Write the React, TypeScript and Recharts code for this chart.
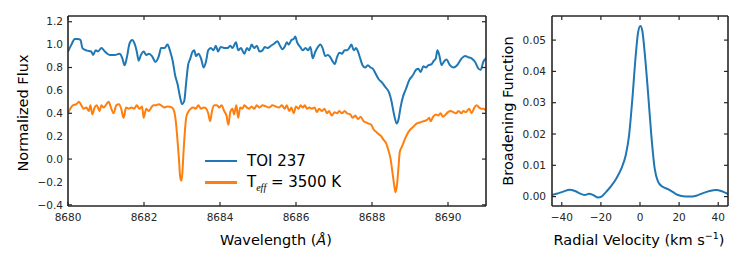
import React from 'react';
import { LineChart, Line, XAxis, YAxis } from 'recharts';

// TOI 237 spectrum (blue) and template Teff = 3500 K (orange)
const BLUE_WL = [
  8680.00, 8680.09, 8680.18, 8680.26, 8680.33, 8680.38, 8680.48, 8680.61, 8680.66, 8680.73,
  8680.79, 8680.88, 8680.97, 8681.10, 8681.23, 8681.36, 8681.43, 8681.49, 8681.55, 8681.62,
  8681.69, 8681.75, 8681.81, 8681.86, 8681.92, 8681.99, 8682.06, 8682.13, 8682.21, 8682.30,
  8682.39, 8682.45, 8682.54, 8682.62, 8682.69, 8682.76, 8682.82, 8682.88, 8682.95, 8683.00,
  8683.06, 8683.11, 8683.16, 8683.22, 8683.28, 8683.32, 8683.37, 8683.43, 8683.50, 8683.57,
  8683.63, 8683.69, 8683.76, 8683.83, 8683.89, 8683.95, 8684.02, 8684.11, 8684.20, 8684.27,
  8684.33, 8684.42, 8684.48, 8684.55, 8684.64, 8684.71, 8684.77, 8684.83, 8684.90, 8684.97,
  8685.04, 8685.12, 8685.18, 8685.25, 8685.34, 8685.43, 8685.51, 8685.58, 8685.64, 8685.70,
  8685.76, 8685.81, 8685.88, 8685.94, 8685.98, 8686.03, 8686.11, 8686.18, 8686.25, 8686.32,
  8686.38, 8686.44, 8686.51, 8686.58, 8686.64, 8686.70, 8686.77, 8686.84, 8686.90, 8686.97,
  8687.02, 8687.08, 8687.14, 8687.21, 8687.28, 8687.34, 8687.40, 8687.46, 8687.52, 8687.58,
  8687.63, 8687.69, 8687.75, 8687.82, 8687.89, 8687.96, 8688.02, 8688.09, 8688.17, 8688.26,
  8688.35, 8688.45, 8688.51, 8688.58, 8688.65, 8688.70, 8688.75, 8688.82, 8688.89, 8688.98,
  8689.07, 8689.16, 8689.22, 8689.28, 8689.35, 8689.42, 8689.48, 8689.57, 8689.63, 8689.68,
  8689.72, 8689.77, 8689.83, 8689.89, 8689.96, 8690.05, 8690.14, 8690.24, 8690.36, 8690.45,
  8690.53, 8690.62, 8690.71, 8690.80, 8690.86, 8690.93, 8691.00,
];
const BLUE_FLUX = [
  0.94, 1.00, 1.05, 1.05, 1.04, 0.97, 0.95, 0.94, 0.91, 0.95,
  0.94, 0.97, 0.94, 0.91, 0.91, 0.92, 0.88, 0.82, 0.89, 1.01,
  1.04, 1.01, 0.94, 0.86, 0.91, 0.94, 0.91, 0.92, 0.90, 0.85,
  0.90, 0.97, 0.97, 1.00, 0.94, 0.85, 0.73, 0.66, 0.54, 0.48,
  0.51, 0.67, 0.82, 0.88, 0.94, 0.95, 0.90, 0.92, 0.88, 0.80,
  0.85, 0.95, 0.97, 0.95, 0.99, 0.94, 0.98, 0.97, 0.97, 0.99,
  0.97, 1.02, 0.95, 0.97, 0.92, 0.97, 0.95, 1.00, 0.97, 0.99,
  0.94, 0.95, 0.98, 0.97, 0.99, 1.01, 1.03, 0.99, 0.96, 0.98,
  1.02, 1.00, 1.04, 1.05, 1.07, 1.02, 0.98, 0.95, 0.97, 0.95,
  0.98, 0.88, 0.94, 0.98, 1.00, 0.97, 0.90, 0.91, 0.89, 0.85,
  0.83, 0.89, 0.93, 0.92, 0.95, 0.95, 0.97, 1.00, 0.95, 0.97,
  0.94, 0.88, 0.82, 0.80, 0.82, 0.80, 0.79, 0.75, 0.70, 0.67,
  0.63, 0.58, 0.51, 0.39, 0.31, 0.35, 0.45, 0.55, 0.61, 0.69,
  0.73, 0.78, 0.79, 0.76, 0.81, 0.80, 0.82, 0.83, 0.86, 0.88,
  0.95, 0.91, 0.82, 0.85, 0.87, 0.82, 0.80, 0.82, 0.88, 0.90,
  0.89, 0.88, 0.85, 0.79, 0.78, 0.85, 0.88,
];

const ORANGE_WL = [
  8680.00, 8680.06, 8680.13, 8680.22, 8680.29, 8680.35, 8680.41, 8680.48, 8680.55, 8680.59,
  8680.64, 8680.70, 8680.76, 8680.83, 8680.88, 8680.94, 8681.01, 8681.07, 8681.13, 8681.20,
  8681.27, 8681.34, 8681.40, 8681.46, 8681.53, 8681.60, 8681.67, 8681.74, 8681.81, 8681.88,
  8681.95, 8681.99, 8682.06, 8682.13, 8682.19, 8682.25, 8682.32, 8682.39, 8682.45, 8682.54,
  8682.62, 8682.74, 8682.80, 8682.84, 8682.88, 8682.92, 8682.95, 8682.98, 8683.01, 8683.04,
  8683.08, 8683.11, 8683.16, 8683.23, 8683.30, 8683.36, 8683.43, 8683.50, 8683.57, 8683.64,
  8683.69, 8683.74, 8683.79, 8683.85, 8683.92, 8683.98, 8684.04, 8684.11, 8684.17, 8684.22,
  8684.27, 8684.33, 8684.37, 8684.43, 8684.48, 8684.53, 8684.59, 8684.64, 8684.71, 8684.77,
  8684.83, 8684.90, 8684.97, 8685.04, 8685.12, 8685.21, 8685.29, 8685.38, 8685.46, 8685.55,
  8685.63, 8685.70, 8685.76, 8685.82, 8685.88, 8685.94, 8686.00, 8686.07, 8686.12, 8686.18,
  8686.23, 8686.29, 8686.35, 8686.42, 8686.49, 8686.55, 8686.61, 8686.68, 8686.75, 8686.81,
  8686.87, 8686.94, 8687.02, 8687.08, 8687.14, 8687.21, 8687.28, 8687.34, 8687.43, 8687.49,
  8687.56, 8687.63, 8687.70, 8687.78, 8687.84, 8687.91, 8687.98, 8688.04, 8688.10, 8688.17,
  8688.24, 8688.30, 8688.37, 8688.43, 8688.49, 8688.54, 8688.59, 8688.62, 8688.66, 8688.70,
  8688.73, 8688.79, 8688.86, 8688.93, 8688.99, 8689.08, 8689.17, 8689.26, 8689.35, 8689.44,
  8689.51, 8689.54, 8689.61, 8689.68, 8689.74, 8689.80, 8689.87, 8689.94, 8690.00, 8690.07,
  8690.14, 8690.21, 8690.28, 8690.35, 8690.40, 8690.47, 8690.56, 8690.62, 8690.68, 8690.75,
  8690.82, 8690.88, 8690.94, 8691.00,
];
const ORANGE_FLUX = [
  0.40, 0.44, 0.47, 0.48, 0.50, 0.47, 0.44, 0.45, 0.42, 0.47,
  0.39, 0.45, 0.47, 0.42, 0.47, 0.45, 0.48, 0.50, 0.45, 0.40,
  0.47, 0.48, 0.44, 0.36, 0.45, 0.44, 0.45, 0.44, 0.47, 0.44,
  0.46, 0.36, 0.44, 0.42, 0.45, 0.47, 0.47, 0.48, 0.47, 0.45,
  0.46, 0.45, 0.41, 0.32, 0.17, 0.00, -0.15, -0.19, -0.12, 0.06,
  0.26, 0.36, 0.41, 0.44, 0.45, 0.44, 0.47, 0.44, 0.45, 0.44,
  0.40, 0.33, 0.42, 0.47, 0.47, 0.45, 0.47, 0.42, 0.38, 0.30,
  0.41, 0.44, 0.39, 0.47, 0.36, 0.45, 0.44, 0.47, 0.45, 0.44,
  0.46, 0.44, 0.47, 0.45, 0.47, 0.46, 0.45, 0.47, 0.46, 0.45,
  0.47, 0.44, 0.47, 0.42, 0.45, 0.40, 0.46, 0.44, 0.47, 0.45,
  0.47, 0.44, 0.45, 0.44, 0.45, 0.41, 0.44, 0.42, 0.44, 0.40,
  0.42, 0.38, 0.41, 0.40, 0.42, 0.40, 0.42, 0.40, 0.39, 0.36,
  0.38, 0.35, 0.37, 0.33, 0.32, 0.31, 0.30, 0.26, 0.24, 0.22,
  0.20, 0.17, 0.14, 0.08, 0.00, -0.12, -0.24, -0.29, -0.22, -0.06,
  0.06, 0.11, 0.17, 0.22, 0.25, 0.28, 0.31, 0.32, 0.33, 0.34,
  0.36, 0.33, 0.37, 0.39, 0.38, 0.40, 0.37, 0.39, 0.41, 0.42,
  0.41, 0.40, 0.42, 0.40, 0.42, 0.41, 0.44, 0.40, 0.44, 0.47,
  0.45, 0.44, 0.44, 0.42,
];

// broadening function
const BF_VEL = [
  -45.2, -42.7, -39.3, -35.9, -33.3, -29.9, -28.2, -26.0, -24.0, -21.4,
  -19.7, -17.2, -14.6, -12.1, -9.5, -7.3, -5.6, -3.9, -2.2, -1.0,
  0.2, 1.2, 2.4, 4.1, 5.8, 7.5, 9.2, 11.4, 14.3, 16.9,
  19.4, 22.0, 25.4, 28.8, 32.2, 35.6, 39.0, 41.5, 44.1, 45.0,
];
const BF_VAL = [
  0.0005, 0.0009, 0.0016, 0.0022, 0.0018, 0.0008, 0.0005, 0.0009, 0.0005, -0.0003,
  0.0000, 0.0016, 0.0035, 0.0058, 0.0090, 0.0132, 0.0195, 0.0313, 0.0450, 0.0524,
  0.0545, 0.0529, 0.0460, 0.0333, 0.0195, 0.0090, 0.0048, 0.0032, 0.0024, 0.0014,
  0.0005, 0.0001, 0.0000, 0.0003, 0.0011, 0.0018, 0.0021, 0.0018, 0.0011, 0.0008,
];

const FLUX_TICKS = [-0.4, -0.2, 0, 0.2, 0.4, 0.6, 0.8, 1.0, 1.2];
const WL_TICKS = [8680, 8682, 8684, 8686, 8688, 8690];
const BF_TICKS = [0, 0.01, 0.02, 0.03, 0.04, 0.05];
const RV_TICKS = [-40, -20, 0, 20, 40];

const SERIES_NAMES = ['TOI 237', 'Teff = 3500 K'];
const BLUE = '#1f77b4';
const ORANGE = '#ff7f0e';
const SPINE = '#262626';
const FONT = '"DejaVu Sans", sans-serif';

const blueData = BLUE_WL.map((x, i) => ({ x, y: BLUE_FLUX[i] }));
const orangeData = ORANGE_WL.map((x, i) => ({ x, y: ORANGE_FLUX[i] }));
const bfData = BF_VEL.map((x, i) => ({ x, y: BF_VAL[i] }));

const minus = (s: string) => s.replace('-', '\u2212');
const tickStyle = { fontSize: 10.5, fill: '#262626', fontFamily: FONT };
const tickLine = { stroke: SPINE, strokeWidth: 1.2 };
const spine = { stroke: SPINE, strokeWidth: 1.6 };
// inward tick marks come from mirrored axes that draw no labels
const noLabel = () => <g />;

const labelStyle: React.CSSProperties = {
  position: 'absolute', fontFamily: FONT, fontSize: 14.5, color: '#000', whiteSpace: 'nowrap',
};

// set of four axes + label-less mirrored copies for one panel
function frame(xDomain: number[], xTicks: number[], yDomain: number[], yTicks: number[],
  xFmt: (v: number) => string, yFmt: (v: number) => string, yMargin: number) {
  return [
    <XAxis key="b" xAxisId="b" dataKey="x" type="number" domain={xDomain} ticks={xTicks}
      allowDataOverflow tickLine={false} tickSize={0} tickMargin={8} axisLine={spine}
      tick={tickStyle} height={30} tickFormatter={xFmt} />,
    <XAxis key="bm" xAxisId="bm" dataKey="x" type="number" domain={xDomain} ticks={xTicks}
      orientation="bottom" allowDataOverflow mirror tick={noLabel} tickLine={tickLine}
      tickSize={4} axisLine={false} />,
    <XAxis key="t" xAxisId="t" dataKey="x" type="number" domain={xDomain} ticks={xTicks}
      orientation="top" allowDataOverflow mirror tick={noLabel} tickLine={tickLine}
      tickSize={4} axisLine={spine} />,
    <YAxis key="l" yAxisId="l" type="number" domain={yDomain} ticks={yTicks} allowDataOverflow
      tickLine={false} tickSize={0} tickMargin={yMargin} axisLine={spine} width={40}
      tick={tickStyle} tickFormatter={yFmt} />,
    <YAxis key="lm" yAxisId="lm" type="number" domain={yDomain} ticks={yTicks} orientation="left"
      allowDataOverflow mirror tick={noLabel} tickLine={tickLine} tickSize={4} axisLine={false} />,
    <YAxis key="r" yAxisId="r" type="number" domain={yDomain} ticks={yTicks} orientation="right"
      allowDataOverflow mirror tick={noLabel} tickLine={tickLine} tickSize={4} axisLine={spine} />,
  ];
}

// invisible copies of a series so the mirrored axes have data behind them
function ghosts(data: { x: number; y: number }[]) {
  return [
    <Line key="g1" xAxisId="t" yAxisId="r" data={data} dataKey="y" stroke="none" dot={false}
      activeDot={false} legendType="none" isAnimationActive={false} />,
    <Line key="g2" xAxisId="bm" yAxisId="lm" data={data} dataKey="y" stroke="none" dot={false}
      activeDot={false} legendType="none" isAnimationActive={false} />,
  ];
}

export default function App() {
  return (
    <div style={{ position: 'absolute', left: 0, top: 0, width: 747, height: 267, background: '#fff' }}>
      {/* spectrum panel */}
      <div style={{ position: 'absolute', left: 0, top: 0 }}>
        <LineChart width={500} height={267} margin={{ top: 16, right: 14, bottom: 31, left: 28 }}>
          {frame([8680, 8691], WL_TICKS, [-0.41, 1.25], FLUX_TICKS,
            (v) => String(v), (v) => minus(v.toFixed(1)), 5)}
          {ghosts(blueData)}
          <Line xAxisId="b" yAxisId="l" data={blueData} dataKey="y" type="monotone" stroke={BLUE}
            strokeWidth={2} dot={false} isAnimationActive={false} name={SERIES_NAMES[0]} />
          <Line xAxisId="b" yAxisId="l" data={orangeData} dataKey="y" type="monotone" stroke={ORANGE}
            strokeWidth={2} dot={false} isAnimationActive={false} name={SERIES_NAMES[1]} />
        </LineChart>
      </div>

      {/* broadening function panel */}
      <div style={{ position: 'absolute', left: 500, top: 0 }}>
        <LineChart width={247} height={267} margin={{ top: 16, right: 19, bottom: 31, left: 12 }}>
          {frame([-45, 45], RV_TICKS, [-0.003, 0.0577], BF_TICKS,
            (v) => minus(String(v)), (v) => v.toFixed(2), 6)}
          {ghosts(bfData)}
          <Line xAxisId="b" yAxisId="l" data={bfData} dataKey="y" type="monotone" stroke={BLUE}
            strokeWidth={2} dot={false} isAnimationActive={false} />
        </LineChart>
      </div>

      {/* axis titles */}
      <div style={{ ...labelStyle, left: 23, top: 113, transform: 'translate(-50%, -50%) rotate(-90deg)' }}>
        Normalized Flux
      </div>
      <div style={{ ...labelStyle, left: 276, top: 240, transform: 'translate(-50%, -50%)' }}>
        Wavelength (<i>Å</i>)
      </div>
      <div style={{ ...labelStyle, left: 508, top: 111, transform: 'translate(-50%, -50%) rotate(-90deg)' }}>
        Broadening Function
      </div>
      <div style={{ ...labelStyle, left: 639, top: 239, transform: 'translate(-50%, -50%)' }}>
        Radial Velocity (km s<sup style={{ fontSize: 9.5 }}>−1</sup>)
      </div>

      {/* legend */}
      <div style={{ position: 'absolute', left: 205, top: 150, fontFamily: FONT, fontSize: 15 }}>
        {[BLUE, ORANGE].map((c, i) => (
          <div key={c} style={{ display: 'flex', alignItems: 'center', height: 21.7 }}>
            <span style={{ display: 'inline-block', width: 32, height: 2.5, background: c, marginRight: 10 }} />
            {i === 0 ? SERIES_NAMES[0] : (
              <span>T<sub style={{ fontSize: 10, fontStyle: 'italic', fontFamily: 'serif' }}>eff</sub> = 3500 K</span>
            )}
          </div>
        ))}
      </div>
    </div>
  );
}
